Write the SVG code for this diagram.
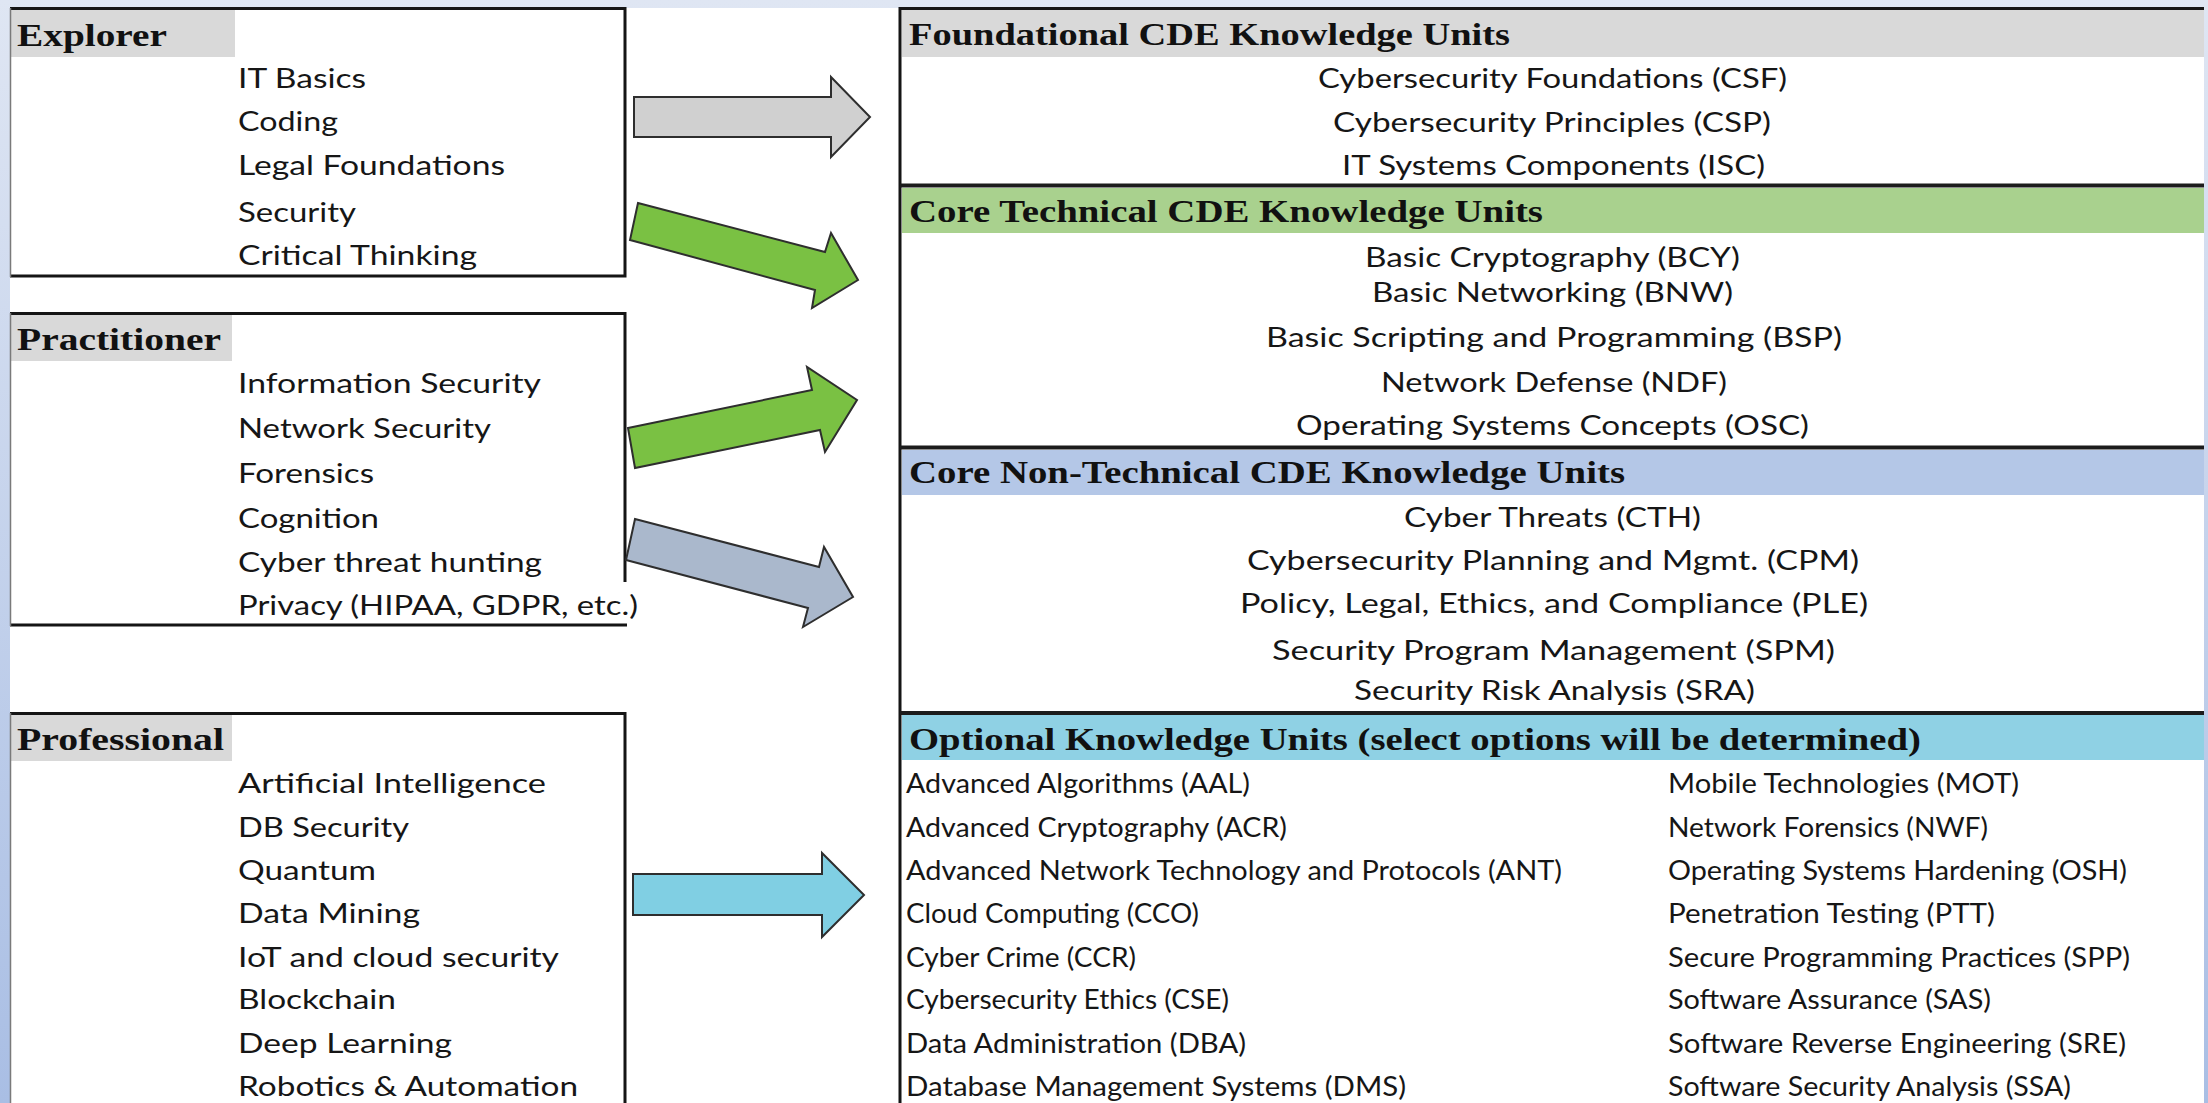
<svg xmlns="http://www.w3.org/2000/svg" width="2208" height="1103" viewBox="0 0 2208 1103">
  <defs>
    <linearGradient id="slideBg" x1="0" y1="0" x2="0" y2="1">
      <stop offset="0" stop-color="#dfe6f3"/>
      <stop offset="1" stop-color="#a9bee4"/>
    </linearGradient>
    <style>
      .hdr { font-family: "Liberation Serif", "Times New Roman", serif; font-weight: bold; font-size: 31px; fill: #111; }
      .item { font-family: Lato, "Liberation Sans", Arial, sans-serif; font-size: 26px; fill: #161616; }
      .frame { fill: none; stroke: #151515; stroke-width: 3; }
      .edge { stroke: #7a7a7a; stroke-width: 1.5; }
      .divider { stroke: #1c1c1c; stroke-width: 4; }
      .tag { fill: #d9d9d9; }
      .arrow { stroke: #2e2e2e; stroke-width: 2; stroke-linejoin: miter; }
    </style>
  </defs>

  <!-- slide background and white page -->
  <rect x="0" y="0" width="2208" height="1103" fill="url(#slideBg)"/>
  <rect x="10" y="8" width="2194" height="1095" fill="#ffffff"/>

  <!-- left column: learner levels -->
  <g id="explorer">
    <rect class="tag" x="11" y="10" width="224" height="47"/>
    <path class="frame" d="M10,8.5 H625 V276 H10"/>
    <line class="edge" x1="10.5" y1="8" x2="10.5" y2="277"/>
    <text class="hdr" x="17" y="46" textLength="150" lengthAdjust="spacingAndGlyphs">Explorer</text>
    <text class="item" x="238" y="88" textLength="128" lengthAdjust="spacingAndGlyphs">IT Basics</text>
    <text class="item" x="238" y="131" textLength="100" lengthAdjust="spacingAndGlyphs">Coding</text>
    <text class="item" x="238" y="175" textLength="267" lengthAdjust="spacingAndGlyphs">Legal Foundations</text>
    <text class="item" x="238" y="222" textLength="118" lengthAdjust="spacingAndGlyphs">Security</text>
    <text class="item" x="238" y="265" textLength="239" lengthAdjust="spacingAndGlyphs">Critical Thinking</text>
  </g>

  <g id="practitioner">
    <rect class="tag" x="11" y="315" width="221" height="46"/>
    <path class="frame" d="M10,313.5 H625 V582"/>
    <line class="frame" x1="10" y1="625" x2="627" y2="625"/>
    <line class="edge" x1="10.5" y1="313" x2="10.5" y2="626"/>
    <text class="hdr" x="17" y="350" textLength="204" lengthAdjust="spacingAndGlyphs">Practitioner</text>
    <text class="item" x="238" y="393" textLength="303" lengthAdjust="spacingAndGlyphs">Information Security</text>
    <text class="item" x="238" y="438" textLength="253" lengthAdjust="spacingAndGlyphs">Network Security</text>
    <text class="item" x="238" y="483" textLength="136" lengthAdjust="spacingAndGlyphs">Forensics</text>
    <text class="item" x="238" y="528" textLength="141" lengthAdjust="spacingAndGlyphs">Cognition</text>
    <text class="item" x="238" y="572" textLength="304" lengthAdjust="spacingAndGlyphs">Cyber threat hunting</text>
    <text class="item" x="238" y="615" textLength="400" lengthAdjust="spacingAndGlyphs">Privacy (HIPAA, GDPR, etc.)</text>
  </g>

  <g id="professional">
    <rect class="tag" x="11" y="715" width="221" height="46"/>
    <path class="frame" d="M10,713.5 H625 V1103"/>
    <line class="edge" x1="10.5" y1="713" x2="10.5" y2="1103"/>
    <text class="hdr" x="17" y="750" textLength="207" lengthAdjust="spacingAndGlyphs">Professional</text>
    <text class="item" x="238" y="793" textLength="308" lengthAdjust="spacingAndGlyphs">Artificial Intelligence</text>
    <text class="item" x="238" y="837" textLength="171" lengthAdjust="spacingAndGlyphs">DB Security</text>
    <text class="item" x="238" y="880" textLength="138" lengthAdjust="spacingAndGlyphs">Quantum</text>
    <text class="item" x="238" y="923" textLength="182" lengthAdjust="spacingAndGlyphs">Data Mining</text>
    <text class="item" x="238" y="967" textLength="321" lengthAdjust="spacingAndGlyphs">IoT and cloud security</text>
    <text class="item" x="238" y="1009" textLength="158" lengthAdjust="spacingAndGlyphs">Blockchain</text>
    <text class="item" x="238" y="1053" textLength="214" lengthAdjust="spacingAndGlyphs">Deep Learning</text>
    <text class="item" x="238" y="1096" textLength="340" lengthAdjust="spacingAndGlyphs">Robotics &amp; Automation</text>
  </g>

  <!-- right column: knowledge unit panel -->
  <g id="ku-panel">
    <line class="frame" x1="900" y1="7" x2="900" y2="1103"/>
    <line class="frame" x1="899" y1="8.5" x2="2204" y2="8.5"/>
  </g>

  <g id="ku-foundational">
    <rect x="902" y="10" width="1302" height="47" fill="#d9d9d9"/>
    <text class="hdr" x="909" y="45" textLength="601" lengthAdjust="spacingAndGlyphs">Foundational CDE Knowledge Units</text>
    <text class="item" x="1318" y="88" textLength="469" lengthAdjust="spacingAndGlyphs">Cybersecurity Foundations (CSF)</text>
    <text class="item" x="1333" y="132" textLength="438" lengthAdjust="spacingAndGlyphs">Cybersecurity Principles (CSP)</text>
    <text class="item" x="1342" y="175" textLength="423" lengthAdjust="spacingAndGlyphs">IT Systems Components (ISC)</text>
  </g>

  <g id="ku-core-technical">
    <line class="divider" x1="900" y1="185.5" x2="2204" y2="185.5"/>
    <rect x="902" y="188" width="1302" height="45" fill="#a9d18e"/>
    <text class="hdr" x="909" y="222" textLength="634" lengthAdjust="spacingAndGlyphs">Core Technical CDE Knowledge Units</text>
    <text class="item" x="1365" y="267" textLength="375" lengthAdjust="spacingAndGlyphs">Basic Cryptography (BCY)</text>
    <text class="item" x="1372" y="302" textLength="361" lengthAdjust="spacingAndGlyphs">Basic Networking (BNW)</text>
    <text class="item" x="1266" y="347" textLength="576" lengthAdjust="spacingAndGlyphs">Basic Scripting and Programming (BSP)</text>
    <text class="item" x="1381" y="392" textLength="346" lengthAdjust="spacingAndGlyphs">Network Defense (NDF)</text>
    <text class="item" x="1296" y="435" textLength="513" lengthAdjust="spacingAndGlyphs">Operating Systems Concepts (OSC)</text>
  </g>

  <g id="ku-core-nontechnical">
    <line class="divider" x1="900" y1="447.5" x2="2204" y2="447.5"/>
    <rect x="902" y="450" width="1302" height="45" fill="#b4c7e7"/>
    <text class="hdr" x="909" y="483" textLength="716" lengthAdjust="spacingAndGlyphs">Core Non-Technical CDE Knowledge Units</text>
    <text class="item" x="1404" y="527" textLength="297" lengthAdjust="spacingAndGlyphs">Cyber Threats (CTH)</text>
    <text class="item" x="1247" y="570" textLength="612" lengthAdjust="spacingAndGlyphs">Cybersecurity Planning and Mgmt. (CPM)</text>
    <text class="item" x="1240" y="613" textLength="628" lengthAdjust="spacingAndGlyphs">Policy, Legal, Ethics, and Compliance (PLE)</text>
    <text class="item" x="1272" y="660" textLength="563" lengthAdjust="spacingAndGlyphs">Security Program Management (SPM)</text>
    <text class="item" x="1354" y="700" textLength="401" lengthAdjust="spacingAndGlyphs">Security Risk Analysis (SRA)</text>
  </g>

  <g id="ku-optional">
    <line class="divider" x1="900" y1="713" x2="2204" y2="713"/>
    <rect x="902" y="715" width="1302" height="45" fill="#8fd1e4"/>
    <text class="hdr" x="909" y="750" textLength="1012" lengthAdjust="spacingAndGlyphs">Optional Knowledge Units (select options will be determined)</text>
    <text class="item" x="906" y="793" textLength="344" lengthAdjust="spacingAndGlyphs">Advanced Algorithms (AAL)</text>
    <text class="item" x="906" y="837" textLength="381" lengthAdjust="spacingAndGlyphs">Advanced Cryptography (ACR)</text>
    <text class="item" x="906" y="880" textLength="656" lengthAdjust="spacingAndGlyphs">Advanced Network Technology and Protocols (ANT)</text>
    <text class="item" x="906" y="923" textLength="293" lengthAdjust="spacingAndGlyphs">Cloud Computing (CCO)</text>
    <text class="item" x="906" y="967" textLength="230" lengthAdjust="spacingAndGlyphs">Cyber Crime (CCR)</text>
    <text class="item" x="906" y="1009" textLength="323" lengthAdjust="spacingAndGlyphs">Cybersecurity Ethics (CSE)</text>
    <text class="item" x="906" y="1053" textLength="340" lengthAdjust="spacingAndGlyphs">Data Administration (DBA)</text>
    <text class="item" x="906" y="1096" textLength="500" lengthAdjust="spacingAndGlyphs">Database Management Systems (DMS)</text>
    <text class="item" x="1668" y="793" textLength="351" lengthAdjust="spacingAndGlyphs">Mobile Technologies (MOT)</text>
    <text class="item" x="1668" y="837" textLength="320" lengthAdjust="spacingAndGlyphs">Network Forensics (NWF)</text>
    <text class="item" x="1668" y="880" textLength="459" lengthAdjust="spacingAndGlyphs">Operating Systems Hardening (OSH)</text>
    <text class="item" x="1668" y="923" textLength="327" lengthAdjust="spacingAndGlyphs">Penetration Testing (PTT)</text>
    <text class="item" x="1668" y="967" textLength="462" lengthAdjust="spacingAndGlyphs">Secure Programming Practices (SPP)</text>
    <text class="item" x="1668" y="1009" textLength="323" lengthAdjust="spacingAndGlyphs">Software Assurance (SAS)</text>
    <text class="item" x="1668" y="1053" textLength="458" lengthAdjust="spacingAndGlyphs">Software Reverse Engineering (SRE)</text>
    <text class="item" x="1668" y="1096" textLength="403" lengthAdjust="spacingAndGlyphs">Software Security Analysis (SSA)</text>
  </g>

  <!-- block arrows from levels to knowledge unit groups -->
  <g id="connectors">
    <path class="arrow" fill="#d0d0d0" d="M634,97 L831,97 L831,77 L870,117 L831,157 L831,137 L634,137 Z"/>
    <path class="arrow" fill="#7ac143" d="M638,203 L825,252 L831,233 L858,280 L812,308 L815,290 L630,240 Z"/>
    <path class="arrow" fill="#7ac143" d="M628,428 L812,390 L807,367 L857,400 L825,452 L820,430 L635,468 Z"/>
    <path class="arrow" fill="#aab8cc" d="M635,519 L819,567 L824,547 L853,597 L803,627 L808,608 L626,560 Z"/>
    <path class="arrow" fill="#80cfe3" d="M633,874 L822,874 L822,853 L864,895 L822,937 L822,915 L633,915 Z"/>
  </g>
</svg>
